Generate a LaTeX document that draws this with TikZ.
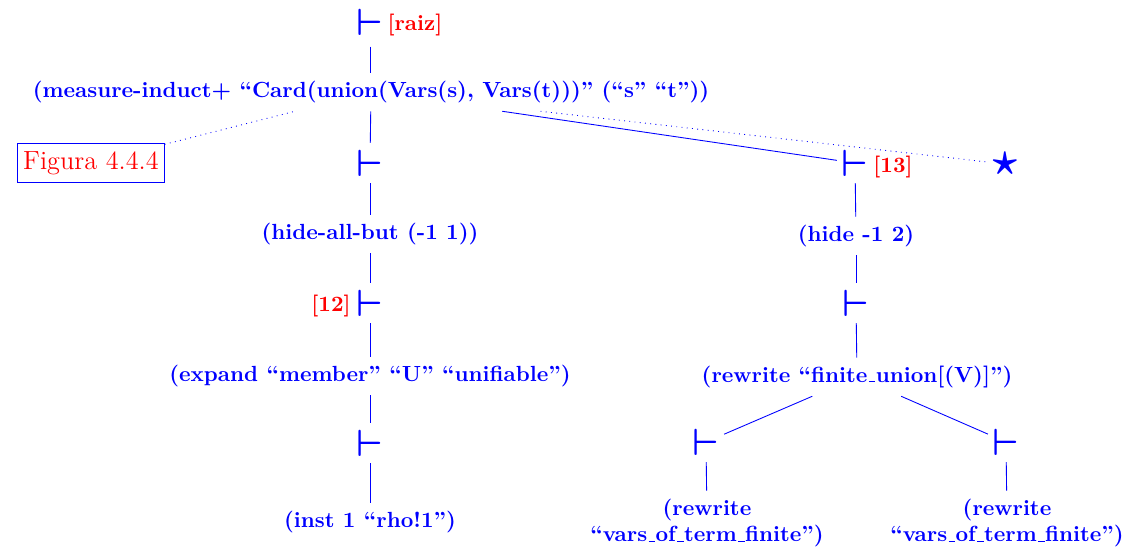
\documentclass[tikz,border=0pt]{standalone}
\newcommand\usc{\leavevmode\kern.06em\vbox{\hrule width.3em height .45pt}\kern.02em}
\begin{document}
\begin{tikzpicture}[x=0.4566pt,y=-0.4566pt,
  turn/.style={text=blue,font=\LARGE\boldmath,inner xsep=2pt,inner ysep=3pt},
  cmd/.style={text=blue,font=\bfseries,inner xsep=3pt,inner ysep=3.6pt,align=center},
  tag/.style={text=red,font=\bfseries,inner sep=1pt},
  edge/.style={draw=blue,thin},
  dots/.style={draw=blue,thin,dotted}]
\useasboundingbox (0,0) rectangle (1136,547);
% left column
\node[turn,inner ysep=1pt] (root) at (370,22) {$\vdash$};
\node[tag] (raiz) at (415,25) {[raiz]};
\node[cmd] (measure) at (371,92) {(measure-induct+ “Card(union(Vars(s), Vars(t)))” (“s” “t”))};
\node[turn] (v1) at (370,163) {$\vdash$};
\node[cmd] (hideall) at (370,234) {(hide-all-but (-1 1))};
\node[turn] (v12) at (370,303) {$\vdash$};
\node[tag] (t12) at (331,306) {[12]};
\node[cmd] (expand) at (370,376) {(expand “member” “U” “unifiable”)};
\node[turn] (v3) at (370,443) {$\vdash$};
\node[cmd] (inst) at (370,522) {(inst 1 “rho!1”)};
% right column
\node[turn] (v13) at (855,163) {$\vdash$};
\node[tag] (t13) at (893,167) {[13]};
\node[cmd] (hide) at (856,236) {(hide -1 2)};
\node[turn] (v2r) at (856,303) {$\vdash$};
\node[cmd] (rewrite) at (857,377) {(rewrite “finite\usc union[(V)]”)};
\node[turn] (vL) at (706,442) {$\vdash$};
\node[turn] (vR) at (1006,442) {$\vdash$};
\node[cmd] (rwL) at (707,523) {(rewrite\\“vars\usc of\usc term\usc finite”)};
\node[cmd] (rwR) at (1007,523) {(rewrite\\“vars\usc of\usc term\usc finite”)};
% extras
\node[text=blue,font=\huge\boldmath,inner sep=1pt] (star) at (1005,164) {$\star$};
\node[draw=blue,thin,text=red,font=\large,inner xsep=2.5pt,inner ysep=3.5pt] (fig) at (91,163) {Figura 4.4.4};
% connectors
\draw[edge,shorten <=4pt] (root) -- (root |- measure.north);
\draw[edge] (measure) -- (v1);
\draw[edge] (v1) -- (hideall);
\draw[edge] (hideall) -- (v12);
\draw[edge] (v12) -- (expand);
\draw[edge] (expand) -- (v3);
\draw[edge] (v3) -- (inst);
\draw[edge] (measure) -- (v13);
\draw[edge] (v13) -- (hide);
\draw[edge] (hide) -- (v2r);
\draw[edge] (v2r) -- (rewrite);
\draw[edge] (rewrite) -- (vL);
\draw[edge] (rewrite) -- (vR);
\draw[edge] (vL) -- (rwL);
\draw[edge] (vR) -- (rwR);
\draw[dots] (measure) -- (star);
\draw[dots] (fig) -- (measure);
\end{tikzpicture}
\end{document}
